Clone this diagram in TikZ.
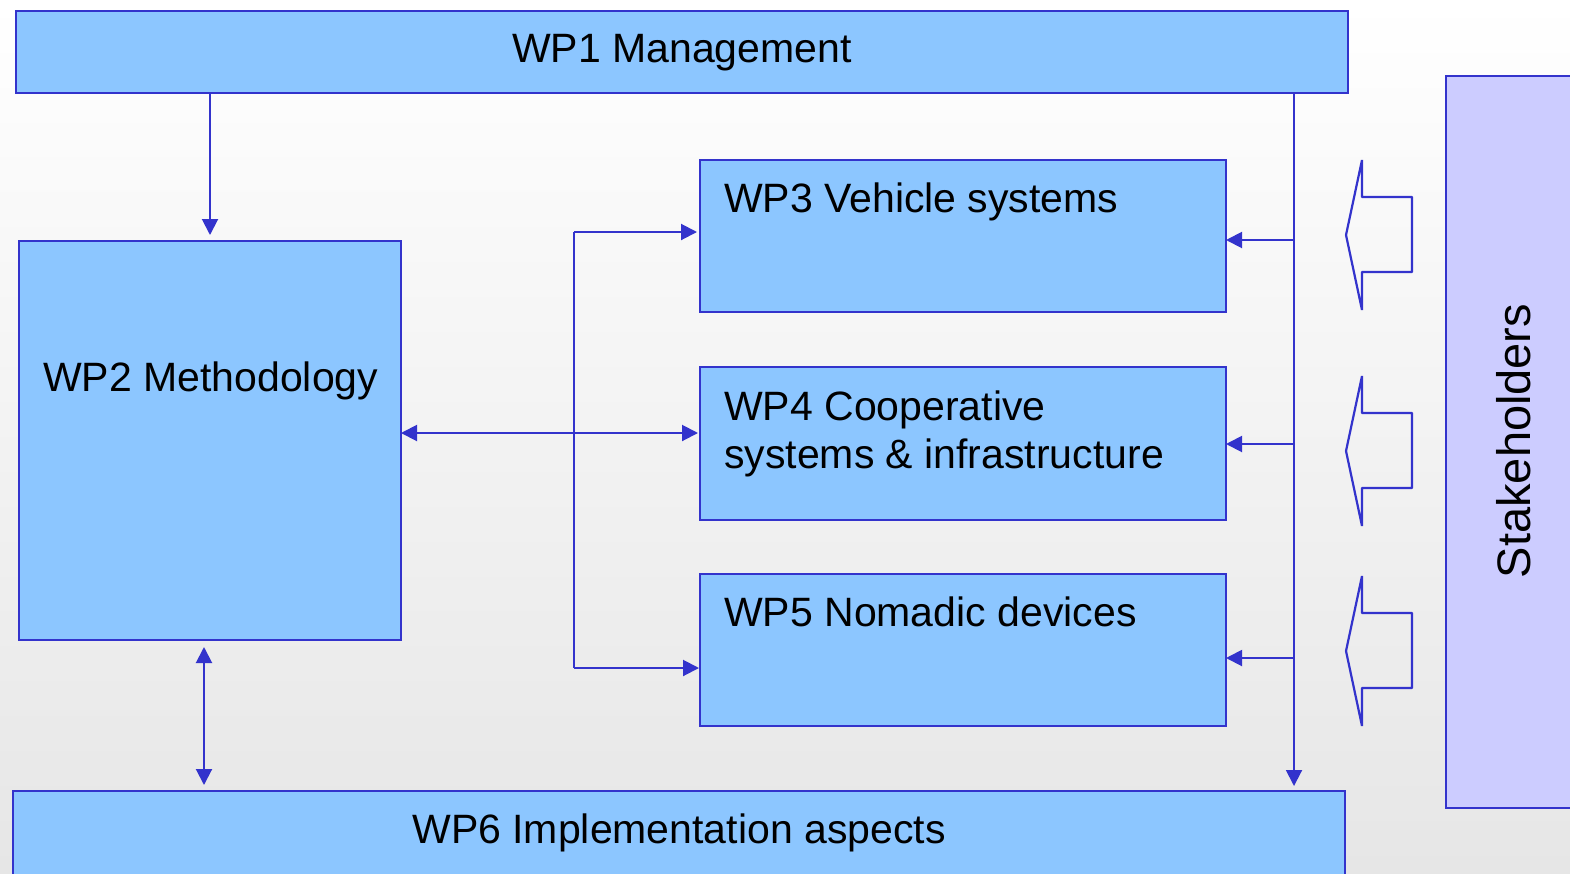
\documentclass[tikz,border=0pt]{standalone}
\usepackage{fontspec}
\setmainfont{Liberation Sans}
\usetikzlibrary{arrows.meta,calc}
\definecolor{bc}{HTML}{3333CC}
\definecolor{bf}{HTML}{8CC6FF}
\definecolor{sf}{HTML}{CCCCFF}
\definecolor{bgbot}{HTML}{E6E6E6}
\tikzset{
  box/.style={draw=bc, fill=bf, line width=2pt, inner sep=0pt, outer sep=0pt},
  stbox/.style={draw=bc, fill=sf, line width=2pt, inner sep=0pt, outer sep=0pt},
  lbl/.style={anchor=base west, inner sep=0pt, font=\fontsize{41}{48}\selectfont, text=black},
  con/.style={draw=bc, line width=2pt},
  arr/.style={con, -{Triangle[length=16pt,width=16pt]}},
  darr/.style={con, {Triangle[length=16pt,width=16pt]}-{Triangle[length=16pt,width=16pt]}},
  hollow/.style={draw=bc, line width=2.2pt, line join=bevel},
}
\begin{document}
\begin{tikzpicture}[x=1pt,y=-1pt]
\useasboundingbox (0,0) rectangle (1570,873);
\clip (0,0) rectangle (1570,873);
\shade[top color=white, bottom color=bgbot] (0,0) rectangle (1570,873);

% boxes
\node[box, minimum width=1332pt, minimum height=82pt] (wp1) at (682,52) {};
\node[box, minimum width=382pt, minimum height=399pt] (wp2) at (210,440.5) {};
\node[box, minimum width=526pt, minimum height=152pt] (wp3) at (963,236) {};
\node[box, minimum width=526pt, minimum height=153pt] (wp4) at (963,443.5) {};
\node[box, minimum width=526pt, minimum height=152pt] (wp5) at (963,650) {};
\node[box, minimum width=1332pt, minimum height=110pt] (wp6) at (679,846) {};
\node[stbox, minimum width=154pt, minimum height=732pt] (st) at (1523,442) {};

% labels
\node[lbl, anchor=base] (t1) at (682,62) {WP1 Management};
\node[lbl] (t2) at (43,391) {WP2 Methodology};
\node[lbl] (t3) at (724,212) {WP3 Vehicle systems};
\node[lbl] (t4a) at (724,420) {WP4 Cooperative};
\node[lbl] (t4b) at (724,468) {systems \& infrastructure};
\node[lbl] (t5) at (724,626) {WP5 Nomadic devices};
\node[lbl] (t6) at (679,843) [anchor=base] {WP6 Implementation aspects};
\node[lbl, anchor=base, rotate=90, font=\fontsize{47}{54}\selectfont] (tst) at (1530,441) {Stakeholders};

% bus coordinates
\coordinate (rbtop) at (wp1.south -| 1294,0);
\coordinate (rbbot) at (wp6.north -| 1294,0);
\coordinate (lbtop) at (574,232);
\coordinate (lbmid) at (574,433);
\coordinate (lbbot) at (574,668);

% WP1 -> WP2
\draw[arr, shorten >=6pt] (wp1.south -| wp2.north) -- (wp2.north);
% right bus to WP6
\draw[arr, shorten >=5pt] (rbtop) -- (rbbot);
% branches from right bus
\draw[arr] (1294,240) -- (wp3.east |- 0,240);
\draw[arr] (1294,444) -- (wp4.east |- 0,444);
\draw[arr] (1294,658) -- (wp5.east |- 0,658);
% left bus
\draw[con] (lbtop) -- (lbbot);
\draw[arr, shorten >=3pt] (lbtop) -- (wp3.west |- lbtop);
\draw[arr, shorten >=2pt] (lbmid) -- (wp4.west |- lbmid);
\draw[arr] (lbmid) -- (wp2.east |- lbmid);
\draw[arr, shorten >=1pt] (lbbot) -- (wp5.west |- lbbot);
% WP2 <-> WP6
\draw[darr, shorten <=7pt, shorten >=6pt] (wp2.south -| 204,0) -- (wp6.north -| 204,0);

% hollow stakeholder arrows
\foreach \yc in {235,451,651}{
  \draw[hollow] (1346,\yc) -- (1362,\yc-75) -- (1362,\yc-38) -- (1412,\yc-38)
    -- (1412,\yc+37) -- (1362,\yc+37) -- (1362,\yc+75) -- cycle;
}
\end{tikzpicture}
\end{document}
